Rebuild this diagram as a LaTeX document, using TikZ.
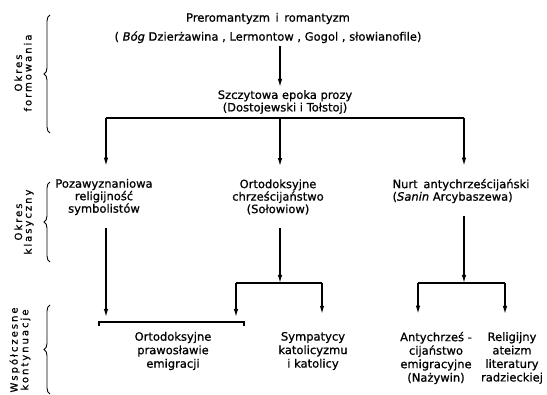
\documentclass[tikz,border=0pt]{standalone}
\usepackage{fontspec}
\setmainfont{DejaVu Sans}[FakeBold=0.8]
\newfontfamily\spacedfont[LetterSpace=20,FakeBold=0.8]{DejaVu Sans}
\usetikzlibrary{arrows.meta,decorations.pathreplacing}

\begin{document}
\begin{tikzpicture}[x=1pt, y=-1pt,
    txt/.style={align=center, inner xsep=1pt, inner ysep=3pt, font=\fontsize{11.5}{12.5}\selectfont},
    mid/.style={txt, inner ysep=13pt},
    low/.style={txt, font=\fontsize{11.5}{13.5}\selectfont, inner ysep=18pt},
    period/.style={rotate=90, align=center, font=\spacedfont\fontsize{10}{9.5}\selectfont},
    arrow/.style={-{Latex[length=8pt,width=4.5pt]}, line width=1.3pt},
    link/.style={line width=1.3pt},
    span/.style={decorate, decoration={brace, amplitude=6pt}, line width=0.9pt}
]
\useasboundingbox (0,0) rectangle (547,395);

% Periods
\draw[span] (50,133) -- (50,15);
\node[period] (formow) at (23,73) {Okres\\formowania};
\draw[span] (50,262) -- (50,182);
\node[period] (klasycz) at (24,222) {Okres\\klasyczny};
\draw[span] (50,394) -- (50,305);
\node[period] (wspolcz) at (20,350) {Współczesne\\kontynuacje};

% Nodes
\node[txt, font=\fontsize{11.5}{19}\selectfont] (prerom) at (268,28) {Preromantyzm\, i\, romantyzm\\( \textit{Bóg} Dzierżawina , Lermontow , Gogol , słowianofile)};
\node[txt] (szczyt) at (285,102) {Szczytowa epoka prozy\\(Dostojewski i Tołstoj)};

\node[mid] (pozaw) at (104,197) {Pozawyznaniowa\\religijność\\symbolistów};
\node[mid] (solow) at (278,197) {Ortodoksyjne\\chrześcijaństwo\\(Sołowiow)};
\node[mid, align=left] (nurt) at (461,191) {Nurt\enspace antychrześcijański\\(\textit{Sanin} Arcybaszewa)};

\node[low] (ortod) at (173,351) {Ortodoksyjne\\prawosławie\\emigracji};
\node[low] (sympat) at (313,351) {Sympatycy\\katolicyzmu\\i katolicy};
\node[low] (anty) at (436,358) {Antychrześ -\\cijaństwo\\emigracyjne\\(Nażywin)};
\node[low] (relig) at (512,358) {Religijny\\ateizm\\literatury\\radzieckiej};

% Branch points
\coordinate (colL) at (106,118);
\coordinate (colM) at (280,118);
\coordinate (colR) at (464,118);
\coordinate (forkM) at (280,283);
\coordinate (forkMl) at (236,283);
\coordinate (forkMr) at (322,283);
\coordinate (forkR) at (464,283);
\coordinate (forkRl) at (418,283);
\coordinate (forkRr) at (505,283);
\coordinate (brL) at (99,322);
\coordinate (brR) at (244,322);

% Arrows
\draw[arrow] (colM |- prerom.south) -- (colM |- szczyt.north);
\draw[link] (colL) -- (colR);
\draw[arrow] (colL) -- (colL |- pozaw.north);
\draw[arrow] (colM) -- (colM |- solow.north);
\draw[arrow] (colR) -- (colR |- nurt.north);

\draw[arrow, shorten >=5pt] (colL |- pozaw.south) -- (colL |- brL);
\draw[arrow] (colM |- solow.south) -- (forkM);
\draw[link] (forkMl) -- (forkMr);
\draw[arrow, shorten >=5pt] (forkMl) -- (forkMl |- brL);
\draw[arrow] (forkMr) -- (forkMr |- sympat.north);
\draw[arrow] (colR |- nurt.south) -- (forkR);
\draw[link] (forkRl) -- (forkRr);
\draw[arrow] (forkRl) -- (forkRl |- anty.north);
\draw[arrow] (forkRr) -- (forkRr |- relig.north);

% Bracket
\draw[link] ([yshift=-4pt]brL) -- (brL) -- (brR) -- ([yshift=-4pt]brR);
\end{tikzpicture}
\end{document}
